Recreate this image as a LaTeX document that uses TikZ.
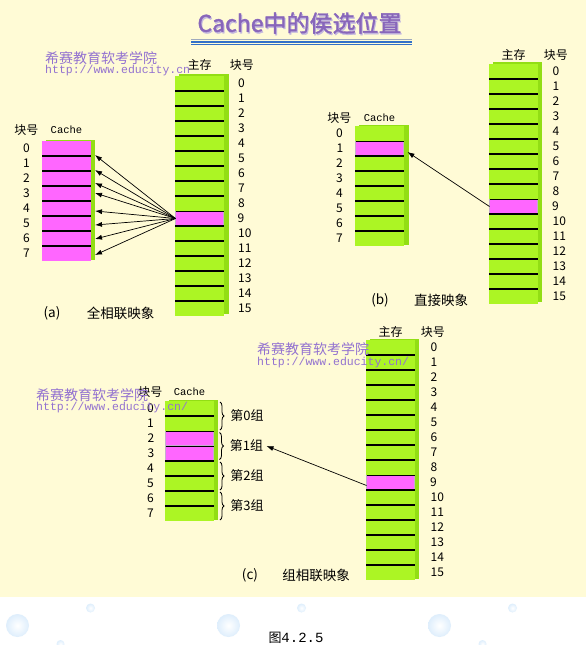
\documentclass[tikz,border=0pt]{standalone}
\usepackage{fontspec}
\setmainfont{Noto Sans CJK SC}
\newfontfamily\monofont{Liberation Mono}
\newfontfamily\titlefont[FakeBold=1.5]{Noto Sans CJK SC}
\usetikzlibrary{positioning,calc,arrows.meta,decorations.pathreplacing}

\definecolor{bgyellow}{RGB}{255,251,214}
\definecolor{memgreen}{RGB}{172,245,36}
\definecolor{memshade}{RGB}{146,222,20}
\definecolor{hitpink}{RGB}{255,102,255}
\definecolor{hitedge}{RGB}{196,172,206}
\definecolor{markpurple}{RGB}{147,114,208}
\definecolor{titlepurple}{RGB}{136,102,186}
\definecolor{titleshade}{RGB}{196,184,222}
\definecolor{bubble}{RGB}{222,238,252}
\definecolor{rulegray}{RGB}{160,170,190}
\definecolor{ruleblue}{RGB}{50,112,200}

\tikzset{%
	cell/.style     = {rectangle, fill=memgreen, minimum width=49pt, minimum height=15pt, inner sep=0pt, outer sep=0pt},
	hit/.style      = {cell, fill=hitpink}, % cache block in use
	hitbox/.style   = {cell, fill=hitpink, draw=hitedge, line width=1pt, minimum width=48pt, minimum height=14pt},
	sep/.style      = {line width=1.1pt, black},
	lbl/.style      = {inner sep=0pt, font=\fontsize{12}{12}\selectfont},
	num/.style      = {inner sep=0pt, font=\fontsize{12}{12}\selectfont},
	cachelbl/.style = {inner sep=0pt, font=\monofont\fontsize{10.5}{10.5}\selectfont},
	caption/.style  = {inner sep=0pt, font=\fontsize{13.5}{13.5}\selectfont},
	grplbl/.style   = {inner sep=0pt, font=\fontsize{13}{13}\selectfont},
	watermark/.style= {inner sep=0pt, anchor=west, text=markpurple, font=\fontsize{14}{14}\selectfont},
	weburl/.style   = {inner sep=0pt, anchor=west, text=markpurple, font=\monofont\fontsize{11.5}{11.5}\selectfont},
	map/.style      = {-{Latex[length=7pt,width=5pt]}, line width=0.7pt},
	group/.style    = {decorate, decoration={brace, amplitude=4pt}, line width=0.8pt},
}

\begin{document}
\begin{tikzpicture}[x=1pt,y=-1pt]
	\useasboundingbox (0,0) rectangle (586,645);
	\fill[white] (0,0) rectangle (586,645);
	\fill[bgyellow] (0,0) rectangle (586,597);
	
	% bubbles
	\foreach \dx in {0,211,422} {
		\shade[inner color=white, outer color=bubble] ({17.5+\dx},625.5) circle (11.5pt);
		\shade[inner color=white, outer color=bubble] ({90.5+\dx},608) circle (4.5pt);
	}
	\foreach \bx in {60.5,482.5}
		\shade[inner color=white, outer color=bubble] (\bx,644) circle (4pt);
	
	% title
	\node[font=\titlefont\fontsize{23}{23}\selectfont, text=titleshade] (titlesh) at (300.5,24.5) {Cache中的侯选位置};
	\node[font=\titlefont\fontsize{23}{23}\selectfont, text=titlepurple] (title) at (299.5,23) {Cache中的侯选位置};
	\draw[rulegray, line width=1.2pt] (191,39.5) -- (412,39.5);
	\draw[ruleblue, line width=1.2pt] (191,42) -- (412,42);
	\draw[ruleblue, line width=1.2pt] (191,44.5) -- (412,44.5);
	
	% (a) fully associative
	\fill[memshade] (179,74) rectangle (229,314);
	\foreach \i in {0,...,15} {
		\ifnum\i=9 \def\st{hitbox}\else\def\st{cell}\fi
		\node[\st] (ma\i) at (199.5,{83.5+15*\i}) {};
		\node[num, right=14pt of ma\i] (na\i) {\i};
	}
	\foreach \i in {1,...,15} \draw[sep] (ma\i.north west) -- (ma\i.north east);
	\node[lbl, above=5pt of ma0] (mla) {主存};
	\node[lbl, right=18pt of mla] (mlb) {块号};
	
	\fill[memshade] (46,139.5) rectangle (95,259.5);
	\foreach \i in {0,...,7} {
		\node[hit] (ca\i) at (66.5,{148.5+15*\i}) {};
		\node[num, left=12pt of ca\i] (nca\i) {\i};
	}
	\foreach \i in {1,...,7} \draw[sep] (ca\i.north west) -- (ca\i.north east);
	\node[cachelbl, above=7pt of ca0] (cla) {Cache};
	\node[lbl] (clb) at (nca0 |- cla) {块号};
	
	\foreach \i/\dy in {0/-6.5,1/-6.5,2/-4.5,3/0.5,4/-2.5,5/-1.5,6/-0.5,7/-1.5}
		\draw[map] (ma9.west) -- ([xshift=4pt,yshift=\dy pt]ca\i.east);
	
	\node[caption] (capa) at (52,313) {(a)};
	\node[caption, right=26pt of capa] (capaa) {全相联映象};
	
	% (b) direct mapping
	\fill[memshade] (493,62) rectangle (542,302);
	\foreach \i in {0,...,15} {
		\ifnum\i=9 \def\st{hitbox}\else\def\st{cell}\fi
		\node[\st] (mb\i) at (513.5,{71.5+15*\i}) {};
		\node[num, right=14.5pt of mb\i] (nb\i) {\i};
	}
	\foreach \i in {1,...,15} \draw[sep] (mb\i.north west) -- (mb\i.north east);
	\node[lbl, above=3pt of mb0] (mba) {主存};
	\node[lbl, right=18pt of mba] (mbb) {块号};
	
	\fill[memshade] (359,124.5) rectangle (408.5,244.5);
	\foreach \i in {0,...,7} {
		\ifnum\i=1 \def\st{hitbox}\else\def\st{cell}\fi
		\node[\st] (cb\i) at (379.5,{133.5+15*\i}) {};
		\node[num, left=12pt of cb\i] (ncb\i) {\i};
	}
	\foreach \i in {1,...,7} \draw[sep] (cb\i.north west) -- (cb\i.north east);
	\node[cachelbl, above=4pt of cb0] (clbb) {Cache};
	\node[lbl] (clbk) at (ncb0 |- clbb) {块号};
	
	\draw[map] (mb9.west) -- ([xshift=4pt,yshift=-3.5pt]cb1.east);
	
	\node[caption] (capb) at (380,300) {(b)};
	\node[caption, right=25pt of capb] (capbb) {直接映象};
	
	% (c) set associative
	\fill[memshade] (370,338.5) rectangle (419,578.5);
	\foreach \i in {0,...,15} {
		\ifnum\i=9 \def\st{hitbox}\else\def\st{cell}\fi
		\node[\st] (mc\i) at (390.5,{347.5+15*\i}) {};
		\node[num, right=15.5pt of mc\i] (nc\i) {\i};
	}
	\foreach \i in {1,...,15} \draw[sep] (mc\i.north west) -- (mc\i.north east);
	\node[lbl, above=2pt of mc0] (mca) {主存};
	\node[lbl, right=18pt of mca] (mcb) {块号};
	
	\fill[memshade] (168.5,399.5) rectangle (217.5,519.5);
	\foreach \i in {0,...,7} {
		\ifnum\i=2 \def\st{hitbox}\else\ifnum\i=3 \def\st{hitbox}\else\def\st{cell}\fi\fi
		\node[\st] (cc\i) at (189.5,{408.5+15*\i}) {};
		\node[num, left=11pt of cc\i] (ncc\i) {\i};
	}
	\foreach \i in {1,...,7} \draw[sep] (cc\i.north west) -- (cc\i.north east);
	\node[cachelbl, above=5pt of cc0] (clcc) {Cache};
	\node[lbl] (clck) at (ncc0 |- clcc) {块号};
	
	\foreach \g/\a/\b in {0/0/1,1/2/3,2/4/5,3/6/7}
		\draw[group] ([xshift=6pt,yshift=-1pt]cc\a.north east) -- ([xshift=6pt,yshift=1pt]cc\b.south east)
			node[grplbl, midway, right=10pt] (g\g) {第\g 组};
	
	\draw[map] ([yshift=-3pt]mc9.west) -- ([xshift=3pt]g1.east);
	
	\node[caption] (capc) at (250,575) {(c)};
	\node[caption, right=24pt of capc] (capcc) {组相联映象};
	
	% watermarks
	\node[watermark] (wa1) at (45,58) {希赛教育软考学院};
	\node[weburl] (wa2) at (45,71) {http://www.educity.cn};
	\node[watermark] (wc1) at (257,349) {希赛教育软考学院};
	\node[weburl] (wc2) at (257,363) {http://www.educity.cn/};
	\node[watermark] (wd1) at (36,395) {希赛教育软考学院};
	\node[weburl] (wd2) at (36,408) {http://www.educity.cn/};
	
	\node[inner sep=0pt] (fig) at (296,638) {\fontsize{13}{13}\selectfont 图{\monofont\fontsize{14}{14}\selectfont 4.2.5}};
\end{tikzpicture}
\end{document}
